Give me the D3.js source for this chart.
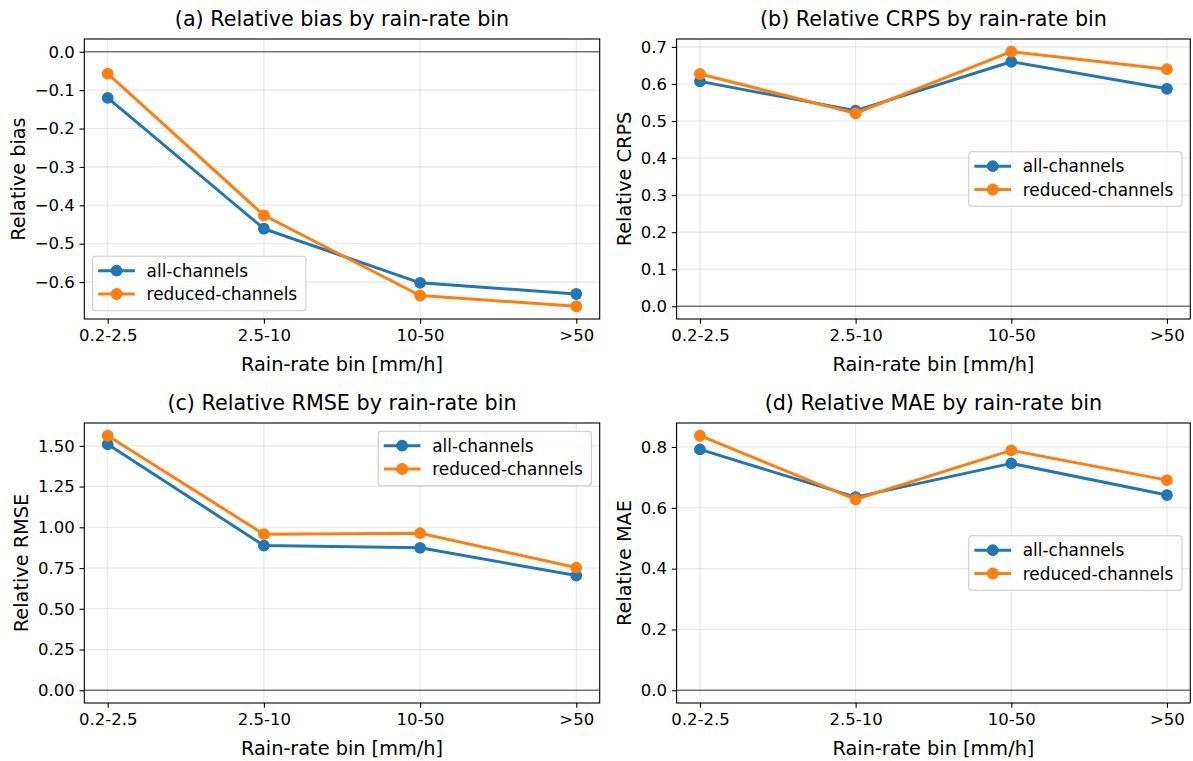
<!DOCTYPE html>
<html>
<head>
<meta charset="utf-8">
<script src="https://cdn.jsdelivr.net/npm/d3@7"></script>
<style>
  body { margin: 0; background: #fff; }
  svg text { font-family: 'DejaVu Sans', sans-serif; fill: #000; }
</style>
</head>
<body>
<svg width="1193" height="761"></svg>
<script>
  // Data
  const bins = ['0.2-2.5', '2.5-10', '10-50', '>50'];
  const seriesNames = ['all-channels', 'reduced-channels'];
  const colors = ['#1f77b4', '#ff7f0e'];

  const biasAll = [-0.120, -0.461, -0.602, -0.631];
  const biasReduced = [-0.057, -0.426, -0.635, -0.663];
  const crpsAll = [0.607, 0.528, 0.660, 0.587];
  const crpsReduced = [0.627, 0.521, 0.687, 0.640];
  const rmseAll = [1.509, 0.888, 0.874, 0.704];
  const rmseReduced = [1.562, 0.958, 0.964, 0.753];
  const maeAll = [0.792, 0.635, 0.746, 0.642];
  const maeReduced = [0.837, 0.628, 0.789, 0.691];

  const biasTicks = [-0.6, -0.5, -0.4, -0.3, -0.2, -0.1, 0.0];
  const crpsTicks = [0.0, 0.1, 0.2, 0.3, 0.4, 0.5, 0.6, 0.7];
  const rmseTicks = [0.00, 0.25, 0.50, 0.75, 1.00, 1.25, 1.50];
  const maeTicks = [0.0, 0.2, 0.4, 0.6, 0.8];

  const panels = [
    {title: '(a) Relative bias by rain-rate bin', ylabel: 'Relative bias', series: [biasAll, biasReduced], ticks: biasTicks, fmt: '.1f', legend: 'lower left', col: 0, row: 0},
    {title: '(b) Relative CRPS by rain-rate bin', ylabel: 'Relative CRPS', series: [crpsAll, crpsReduced], ticks: crpsTicks, fmt: '.1f', legend: 'center right', col: 1, row: 0},
    {title: '(c) Relative RMSE by rain-rate bin', ylabel: 'Relative RMSE', series: [rmseAll, rmseReduced], ticks: rmseTicks, fmt: '.2f', legend: 'upper right', col: 0, row: 1},
    {title: '(d) Relative MAE by rain-rate bin', ylabel: 'Relative MAE', series: [maeAll, maeReduced], ticks: maeTicks, fmt: '.1f', legend: 'center right', col: 1, row: 1}
  ];

  // layout (px)
  const colLeft = [84.3, 676.6];
  const colWidth = [515.4, 513.7];
  const rowTop = [39, 423];
  const height = 280;
  const tickLen = 4.8, tickPad = 4.8;
  const tickFont = 16.5, labelFont = 19.3, titleFont = 20.7, legendFont = 16.9;
  const lineW = 3, markR = 5.2;

  const svg = d3.select('svg');

  panels.forEach(p => {
    const width = colWidth[p.col];
    const g = svg.append('g').attr('transform', 'translate(' + colLeft[p.col] + ',' + rowTop[p.row] + ')');

    const x = d3.scalePoint().domain(bins).range([0, width]).padding(0.15);
    const all = p.series.flat().concat([0]);
    const lo = d3.min(all), hi = d3.max(all), pad = (hi - lo) * 0.05;
    const y = d3.scaleLinear().domain([lo - pad, hi + pad]).range([height, 0]);

    // grid
    g.append('g').selectAll('line').data(bins).enter().append('line')
      .attr('x1', d => x(d)).attr('x2', d => x(d)).attr('y1', 0).attr('y2', height)
      .attr('stroke', '#b0b0b0').attr('stroke-opacity', 0.3).attr('stroke-width', 1.1);
    g.append('g').selectAll('line').data(p.ticks).enter().append('line')
      .attr('x1', 0).attr('x2', width).attr('y1', d => y(d)).attr('y2', d => y(d))
      .attr('stroke', '#b0b0b0').attr('stroke-opacity', 0.3).attr('stroke-width', 1.1);

    // zero line
    g.append('line').attr('x1', 0).attr('x2', width).attr('y1', y(0)).attr('y2', y(0))
      .attr('stroke', '#000').attr('stroke-opacity', 0.5).attr('stroke-width', 1.4);

    // series
    const line = d3.line().x((d, i) => x(bins[i])).y(d => y(d));
    p.series.forEach((s, k) => {
      g.append('path').datum(s)
        .attr('fill', 'none').attr('stroke', colors[k]).attr('stroke-width', lineW)
        .attr('stroke-linejoin', 'round').attr('d', line);
      g.append('g').selectAll('circle').data(s).enter().append('circle')
        .attr('cx', (d, i) => x(bins[i])).attr('cy', d => y(d)).attr('r', markR)
        .attr('fill', colors[k]).attr('stroke', colors[k]).attr('stroke-width', 1.4);
    });

    // axes
    const xAxis = g.append('g').attr('transform', 'translate(0,' + height + ')')
      .call(d3.axisBottom(x).tickSize(tickLen).tickPadding(tickPad));
    const yAxis = g.append('g')
      .call(d3.axisLeft(y).tickValues(p.ticks).tickFormat(d3.format(p.fmt)).tickSize(tickLen).tickPadding(tickPad));
    [xAxis, yAxis].forEach(a => {
      a.select('.domain').remove();
      a.selectAll('.tick line').attr('stroke', '#000').attr('stroke-width', 1.1);
      a.selectAll('.tick text').style('font-size', tickFont + 'px').attr('fill', '#000');
    });
    xAxis.selectAll('.tick text').attr('dy', '0.78em');

    // frame
    g.append('rect').attr('width', width).attr('height', height)
      .attr('fill', 'none').attr('stroke', '#000').attr('stroke-width', 1.1);

    // title & labels
    g.append('text').text(p.title).attr('x', width / 2).attr('y', -13.3)
      .attr('text-anchor', 'middle').style('font-size', titleFont + 'px');
    g.append('text').text('Rain-rate bin [mm/h]').attr('x', width / 2).attr('y', height + 51.5)
      .attr('text-anchor', 'middle').style('font-size', labelFont + 'px');

    let minX = 0;
    yAxis.selectAll('.tick text').each(function() {
      minX = Math.min(minX, this.getBBox().x);
    });
    const lx = minX - 5.5 - 4.6;
    g.append('text').text(p.ylabel)
      .attr('transform', 'translate(' + lx + ',' + (height / 2) + ') rotate(-90)')
      .attr('text-anchor', 'middle').style('font-size', labelFont + 'px');

    // legend
    const lg = g.append('g');
    const box = lg.append('rect').attr('rx', 3).attr('ry', 3)
      .attr('fill', '#fff').attr('fill-opacity', 0.8)
      .attr('stroke', '#cccccc').attr('stroke-width', 1.1);
    let textW = 0;
    seriesNames.forEach((name, k) => {
      const cy = 14.4 + k * 23.3;
      lg.append('line').attr('x1', 5.6).attr('x2', 42.3).attr('y1', cy).attr('y2', cy)
        .attr('stroke', colors[k]).attr('stroke-width', lineW);
      lg.append('circle').attr('cx', 24).attr('cy', cy).attr('r', markR)
        .attr('fill', colors[k]).attr('stroke', colors[k]).attr('stroke-width', 1.4);
      const t = lg.append('text').text(name).attr('x', 54).attr('y', cy)
        .attr('dy', '0.36em').style('font-size', legendFont + 'px');
      textW = Math.max(textW, t.node().getComputedTextLength());
    });
    const bw = 54 + textW + 8.7, bh = 54.4, inset = 8.3;
    box.attr('width', bw).attr('height', bh);
    let lx0, ly0;
    if (p.legend === 'lower left') { lx0 = inset; ly0 = height - inset - bh; }
    else if (p.legend === 'upper right') { lx0 = width - inset - bw; ly0 = inset; }
    else { lx0 = width - inset - bw; ly0 = (height - bh) / 2; }
    lg.attr('transform', 'translate(' + lx0 + ',' + ly0 + ')');
  });
</script>
</body>
</html>
